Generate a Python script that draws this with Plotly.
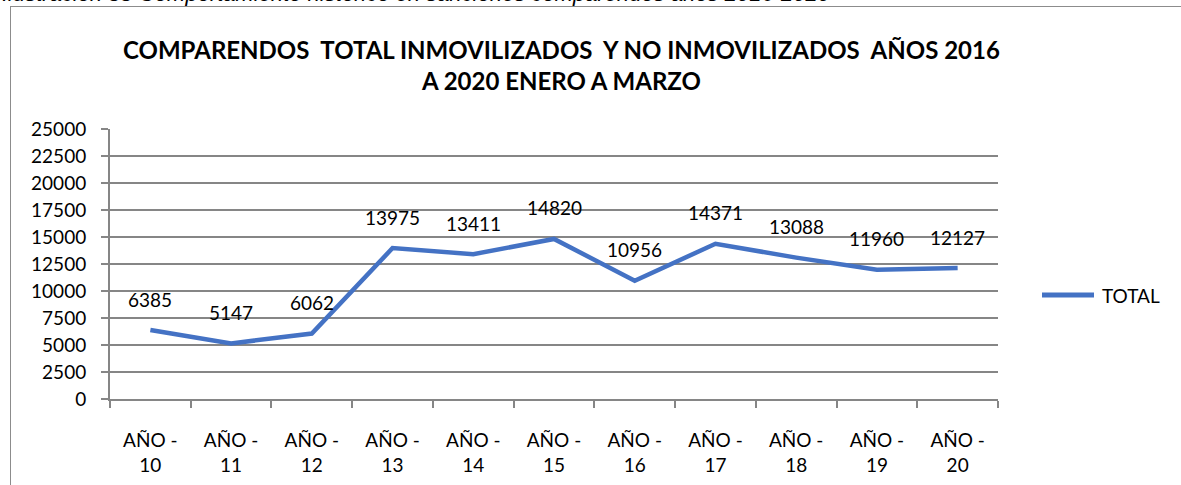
import plotly.graph_objects as go

categories = ["AÑO - 10", "AÑO - 11", "AÑO - 12", "AÑO - 13", "AÑO - 14", "AÑO - 15",
              "AÑO - 16", "AÑO - 17", "AÑO - 18", "AÑO - 19", "AÑO - 20"]
total = [6385, 5147, 6062, 13975, 13411, 14820, 10956, 14371, 13088, 11960, 12127]
y_ticks = [0, 2500, 5000, 7500, 10000, 12500, 15000, 17500, 20000, 22500, 25000]
series_name = "TOTAL"
title_text = "COMPARENDOS&nbsp;&nbsp;TOTAL INMOVILIZADOS&nbsp;&nbsp;Y NO INMOVILIZADOS&nbsp;&nbsp;AÑOS 2016<br>A 2020 ENERO A MARZO"
caption_text = "Ilustración 88 Comportamiento histórico en sanciones comparendos años 2016-2020"

W, H = 1181, 485
L, R, T, B = 110, 998, 129, 399
FONT = "Lato"
BLUE = "#4472C4"
GRAY = "#868686"

def px_x(p):
    return (p - L) / (R - L)

def px_y(p):
    return (B - p) / (B - T)

tick_text = [c.replace(" - ", " -<br>") for c in categories]

fig = go.Figure()
fig.add_trace(go.Scatter(
    x=categories, y=total, mode="lines", name=series_name,
    line=dict(color=BLUE, width=4.5), showlegend=False, hoverinfo="x+y",
))

annotations = []
for c, v in zip(categories, total):
    annotations.append(dict(
        x=c, y=v, xref="x", yref="y", text=str(v), showarrow=False,
        yshift=31, font=dict(family=FONT, size=19, color="#000000"),
    ))

annotations.append(dict(
    x=px_x(561), y=px_y(65), xref="paper", yref="paper", text="<b>" + title_text + "</b>",
    showarrow=False, xanchor="center", yanchor="middle",
    font=dict(family=FONT, size=24, color="#000000"),
))

annotations.append(dict(
    x=px_x(0), y=px_y(8), xref="paper", yref="paper", text="<i>" + caption_text + "</i>",
    showarrow=False, xanchor="left", yanchor="bottom",
    font=dict(family="Liberation Sans", size=22, color="#000000"),
))

annotations.append(dict(
    x=px_x(1100), y=px_y(295), xref="paper", yref="paper", text=series_name,
    showarrow=False, xanchor="left", yanchor="middle",
    font=dict(family=FONT, size=19, color="#000000"),
))

shapes = [
    dict(type="line", xref="paper", yref="paper", x0=px_x(1042), x1=px_x(1094),
         y0=px_y(295), y1=px_y(295), line=dict(color=BLUE, width=5)),
    dict(type="line", xref="paper", yref="paper", x0=px_x(10), x1=px_x(1190),
         y0=px_y(6.5), y1=px_y(6.5), line=dict(color="#8c8c8c", width=1)),
    dict(type="line", xref="paper", yref="paper", x0=px_x(10.5), x1=px_x(10.5),
         y0=px_y(6), y1=px_y(495), line=dict(color="#8c8c8c", width=1)),
]

fig.update_layout(
    width=W, height=H,
    margin=dict(l=L, r=W - R, t=T, b=H - B, pad=0, autoexpand=False),
    paper_bgcolor="white", plot_bgcolor="white",
    font=dict(family=FONT, size=19, color="#000000"),
    annotations=annotations, shapes=shapes,
    xaxis=dict(
        type="category", tickmode="array", tickvals=categories, ticktext=tick_text,
        tickson="boundaries", ticks="outside", ticklen=7, tickcolor=GRAY, tickwidth=2,
        showline=True, linecolor=GRAY, linewidth=2, showgrid=False,
        tickfont=dict(family=FONT, size=19), ticklabelstandoff=23, automargin=False,
        range=[-0.5, len(categories) - 0.5],
    ),
    yaxis=dict(
        range=[0, 25000], tickmode="array", tickvals=y_ticks,
        ticktext=[str(v) for v in y_ticks],
        ticks="outside", ticklen=7, tickcolor=GRAY, tickwidth=2,
        showline=True, linecolor=GRAY, linewidth=2, automargin=False,
        showgrid=True, gridcolor=GRAY, gridwidth=2, zeroline=False,
        tickfont=dict(family=FONT, size=19), ticklabelstandoff=11,
    ),
)

fig.write_html("out.html", config={"displayModeBar": False},
               post_script="document.body.style.margin='0';document.body.style.overflow='hidden';")
